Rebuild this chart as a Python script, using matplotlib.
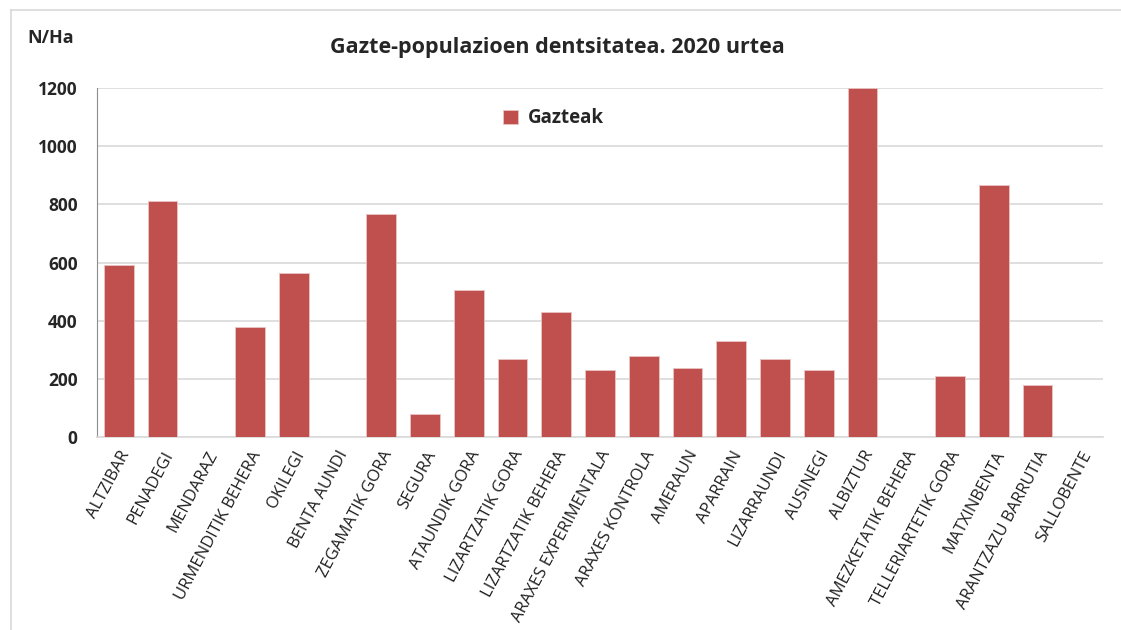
import numpy as np
import matplotlib.pyplot as plt
from matplotlib.lines import Line2D

plt.rcParams['font.family'] = ['Open Sans', 'DejaVu Sans']

zones = ["ALTZIBAR", "PENADEGI", "MENDARAZ", "URMENDITIK BEHERA", "OKILEGI",
         "BENTA AUNDI", "ZEGAMATIK GORA", "SEGURA", "ATAUNDIK GORA",
         "LIZARTZATIK GORA", "LIZARTZATIK BEHERA", "ARAXES EXPERIMENTALA",
         "ARAXES KONTROLA", "AMERAUN", "APARRAIN", "LIZARRAUNDI", "AUSINEGI",
         "ALBIZTUR", "AMEZKETATIK BEHERA", "TELLERIARTETIK GORA", "MATXINBENTA",
         "ARANTZAZU BARRUTIA", "SALLOBENTE"]
gazteak = [590, 810, 0, 378, 563, 0, 766, 79, 504, 267, 430, 232, 280, 237,
           329, 267, 232, 1200, 0, 210, 866, 180, 0]
yticks = [0, 200, 400, 600, 800, 1000, 1200]

fig = plt.figure(figsize=(11.21, 6.3), dpi=100)
ax = fig.add_axes([97/1121, 1 - 437/630, (1103 - 97)/1121, (437 - 88)/630])

x = np.arange(len(zones))
ax.bar(x, gazteak, width=0.68, color="#C0504D", edgecolor="#E8C4C3",
       linewidth=0.6, label="Gazteak", zorder=3)

ax.set_xlim(-0.5, len(zones) - 0.5)
ax.set_ylim(0, 1200)
ax.set_yticks(yticks)
ax.set_yticklabels([str(v) for v in yticks], fontsize=12.5, fontweight="bold",
                   color="#262626")
ax.set_xticks(x)
ax.set_xticklabels(zones, rotation=62, ha="right", rotation_mode="anchor",
                   fontsize=12, color="#1f1f1f")
ax.tick_params(axis="both", length=0)
ax.tick_params(axis="y", pad=14)
ax.tick_params(axis="x", pad=8)

ax.grid(axis="y", color="#D9D9D9", linewidth=1.2, zorder=0)
for s in ["top", "right"]:
    ax.spines[s].set_visible(False)
ax.spines["left"].set_color("#8C8C8C")
ax.spines["bottom"].set_color("#D9D9D9")
ax.spines["bottom"].set_linewidth(1.2)

leg = ax.legend(loc="upper left", bbox_to_anchor=(0.387, 0.99), frameon=False,
                handlelength=0.8, handleheight=0.8, handletextpad=0.5,
                prop={"size": 13.5, "weight": "bold"})
for t in leg.get_texts():
    t.set_color("#262626")

fig.text(557/1121, 1 - 47/630, "Gazte-populazioen dentsitatea. 2020 urtea",
         ha="center", va="center", fontsize=15.5, fontweight="bold",
         color="#262626")
fig.text(51/1121, 1 - 38/630, "N/Ha", ha="center", va="center", fontsize=13,
         fontweight="bold", color="#262626")

# chart frame (top and left edges)
fig.add_artist(Line2D([11/1121, 1], [1 - 10/630, 1 - 10/630],
                      transform=fig.transFigure, color="#D9D9D9", lw=1.2))
fig.add_artist(Line2D([11/1121, 11/1121], [0, 1 - 10/630],
                      transform=fig.transFigure, color="#D9D9D9", lw=1.2))

plt.savefig("out.png", dpi=100)
